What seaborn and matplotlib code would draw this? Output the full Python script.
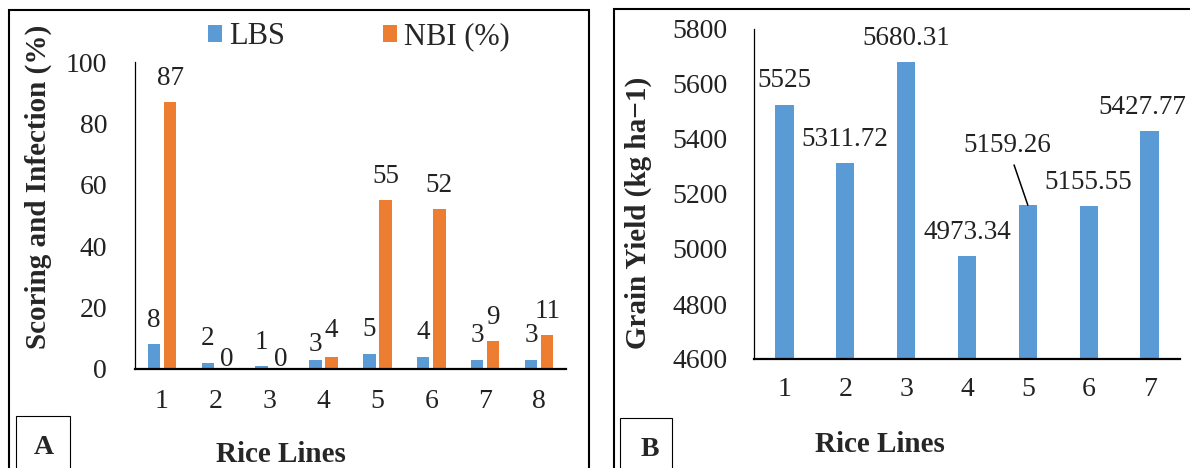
import matplotlib
matplotlib.use("Agg")
import matplotlib.pyplot as plt
from matplotlib.patches import Rectangle
import pandas as pd
import seaborn as sns

# ---------------- data ----------------
rice_lines_a = ["1", "2", "3", "4", "5", "6", "7", "8"]
lbs_scores = [8, 2, 1, 3, 5, 4, 3, 3]
nbi_percent = [87, 0, 0, 4, 55, 52, 9, 11]
series_names = ["LBS", "NBI (%)"]
yticks_a = [0, 20, 40, 60, 80, 100]

rice_lines_b = ["1", "2", "3", "4", "5", "6", "7"]
grain_yield = [5525, 5311.72, 5680.31, 4973.34, 5159.26, 5155.55, 5427.77]
yticks_b = [4600, 4800, 5000, 5200, 5400, 5600, 5800]

# ---------------- style ----------------
BLUE = "#5B9BD5"
ORANGE = "#ED7D31"
TICK_FS = 20
LABEL_FS = 21
VALUE_FS = 19.5
LEGEND_FS = 22

# label offsets (points above bar top) – Excel auto-placement
label_dy_a = [
    [12.5, 12.5, 12.5, 6.0, 12.5, 12.5, 12.5, 12.5],   # LBS
    [12.5, 2.0, 2.0, 14.0, 12.5, 12.5, 12.5, 12.5],    # NBI
]
label_dx_a = [
    [0, 0, 0, 0, 0, 0, 0, 0],
    [0, 2, 2, 0, 0, 0, 0, 0],
]
label_dx_b = [0, 0, 0, 0, -14.8, 0, -5]
label_dy_b = [12.5, 12.5, 12.5, 12.5, 38.5, 12.5, 12.5]

sns.set_style("white")
plt.rcParams["font.family"] = ["Liberation Serif", "DejaVu Serif"]

W, H = 1190, 468
fig = plt.figure(figsize=(W / 100, H / 100), dpi=100)


def px_rect(l, t, r, b):
    return [l / W, 1 - b / H, (r - l) / W, (b - t) / H]


axA = fig.add_axes(px_rect(135, 62, 566, 369))
axB = fig.add_axes(px_rect(754, 29, 1180, 359))

# ---------------- panel A ----------------
df_a = pd.DataFrame({
    "line": rice_lines_a * 2,
    "value": lbs_scores + nbi_percent,
    "metric": [series_names[0]] * len(rice_lines_a) + [series_names[1]] * len(rice_lines_a),
})
sns.barplot(data=df_a, x="line", y="value", hue="metric", hue_order=series_names,
            palette=[BLUE, ORANGE], saturation=1, width=0.6, gap=0.23,
            linewidth=0, errorbar=None, ax=axA)

for s, cont in enumerate(axA.containers):
    for i, rect in enumerate(cont):
        h = rect.get_height()
        axA.annotate(f"{h:g}", xy=(rect.get_x() + rect.get_width() / 2, h),
                     xytext=(label_dx_a[s][i], label_dy_a[s][i]), textcoords="offset points",
                     ha="center", va="baseline", fontsize=VALUE_FS, color="#222222")

axA.set_ylim(0, 100)
axA.set_xlim(-0.5, len(rice_lines_a) - 0.5)
axA.set_yticks(yticks_a)

sns.move_legend(axA, "center left", bbox_to_anchor=(208 / W, 1 - 37 / H),
                bbox_transform=fig.transFigure, ncol=2, title=None, frameon=False,
                fontsize=LEGEND_FS, handlelength=0.47, handleheight=0.47,
                handletextpad=0.22, columnspacing=3.2, borderpad=0, borderaxespad=0)

axA.set_ylabel("Scoring and Infection (%)", fontsize=LABEL_FS, fontweight="bold", va="center")
axA.yaxis.set_label_coords((38 - 135) / 431, (369 - 187) / 307)
axA.set_xlabel("Rice Lines", fontsize=LABEL_FS, fontweight="bold", va="center")
axA.xaxis.set_label_coords((281 - 135) / 431, (369 - 455) / 307)

# ---------------- panel B ----------------
sns.barplot(x=rice_lines_b, y=grain_yield, color=BLUE, saturation=1, width=0.3,
            linewidth=0, errorbar=None, ax=axB)

for i, rect in enumerate(axB.patches):
    h = rect.get_height()
    kw = {}
    if label_dy_b[i] > 20:
        kw["arrowprops"] = dict(arrowstyle="-", color="black", lw=1.1,
                                shrinkA=3, shrinkB=0)
    axB.annotate(f"{h:g}", xy=(rect.get_x() + rect.get_width() / 2, h),
                 xytext=(label_dx_b[i], label_dy_b[i]), textcoords="offset points",
                 ha="center", va="baseline", fontsize=VALUE_FS, color="#222222", **kw)

axB.set_ylim(yticks_b[0], yticks_b[-1])
axB.set_xlim(-0.5, len(rice_lines_b) - 0.5)
axB.set_yticks(yticks_b)
axB.set_ylabel("Grain Yield (kg ha\u22121)", fontsize=LABEL_FS, fontweight="bold", va="center")
axB.yaxis.set_label_coords((638 - 754) / 426, (359 - 213) / 330)
axB.set_xlabel("Rice Lines", fontsize=LABEL_FS, fontweight="bold", va="center")
axB.xaxis.set_label_coords((880 - 754) / 426, (359 - 445) / 330)

# ---------------- axes styling ----------------
for ax, ypad, xpad in ((axA, 20, 14.5), (axB, 19, 13)):
    sns.despine(ax=ax)
    ax.spines["left"].set_color("black")
    ax.spines["left"].set_linewidth(0.9)
    ax.spines["bottom"].set_color("black")
    ax.spines["bottom"].set_linewidth(1.6)
    ax.tick_params(axis="y", length=0, pad=ypad, labelsize=TICK_FS, labelcolor="#222222")
    ax.tick_params(axis="x", length=0, pad=xpad, labelsize=TICK_FS, labelcolor="#222222")
    ax.set_facecolor("none")

# ---------------- panel frames and letters ----------------
fig.add_artist(Rectangle((9 / W, -0.1), (589 - 9) / W, 1.1 - 10 / H,
                         transform=fig.transFigure, fill=False, lw=1.5, ec="black"))
fig.add_artist(Rectangle((614 / W, -0.1), 0.5, 1.1 - 9.5 / H,
                         transform=fig.transFigure, fill=False, lw=1.5, ec="black"))
fig.add_artist(Rectangle((16 / W, -0.1), (70 - 16) / W, 0.1 + (468 - 416) / H,
                         transform=fig.transFigure, fill=False, lw=0.8, ec="black"))
fig.add_artist(Rectangle((620 / W, -0.1), (672 - 620) / W, 0.1 + (468 - 418) / H,
                         transform=fig.transFigure, fill=False, lw=0.8, ec="black"))
fig.text(44 / W, 1 - 447 / H, "A", fontsize=20, fontweight="bold", ha="center", va="center")
fig.text(650 / W, 1 - 449 / H, "B", fontsize=20, fontweight="bold", ha="center", va="center")

fig.savefig("out.png", dpi=100, facecolor="white")
